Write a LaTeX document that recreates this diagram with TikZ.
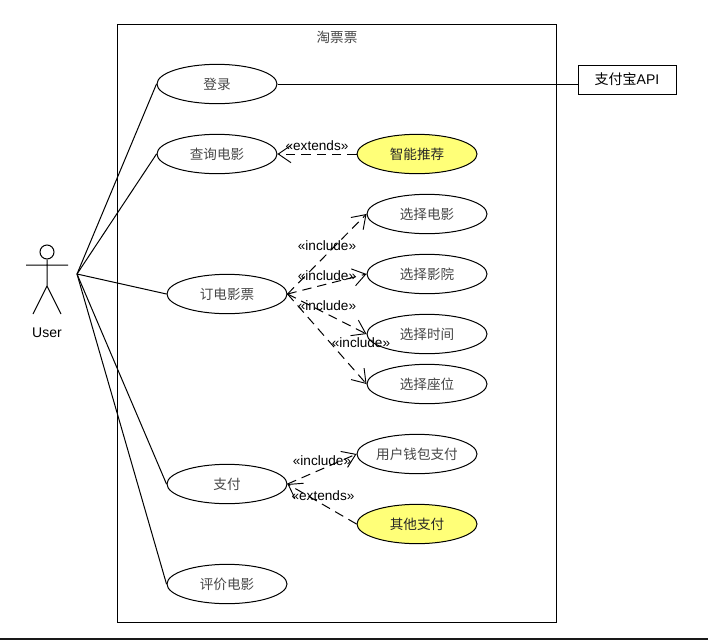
\documentclass[tikz,border=0pt]{standalone}
\usepackage{fontspec}
\setmainfont{Liberation Sans}
\newfontfamily\cjk{Noto Sans CJK SC}[Scale=1]
\usetikzlibrary{arrows.meta,shapes.geometric}
\definecolor{ucyellow}{RGB}{255,255,120}
\tikzset{
  uc/.style={draw=black,ellipse,minimum width=90pt,minimum height=29.5pt,inner sep=0pt,fill=white,line width=.75pt,text=black!72,font=\cjk\fontsize{10.2}{12}\selectfont},
  ucy/.style={uc,fill=ucyellow,text=black!85},
  assoc/.style={draw=black,line width=.75pt},
  dep/.style={draw=black,line width=.75pt,dash pattern=on 7pt off 4.5pt,-{Straight Barb[length=9.5pt,width=13pt,line width=.7pt]}},
  stereo/.style={font=\fontsize{10.2}{12}\selectfont,inner sep=0pt,text=black},
}
\begin{document}
\begin{tikzpicture}[x=.75pt,y=-.75pt]
\useasboundingbox (0,0) rectangle (708,640);
\fill[white] (0,0) rectangle (708,640);
\fill[black!90] (0,638) rectangle (708,640);
\node[draw=black,line width=.75pt,minimum width=329.25pt,minimum height=448.5pt,inner sep=0pt] (sys) at (336.5,323.7) {};
\node[font=\cjk\fontsize{10.2}{12}\selectfont,text=black!72,inner sep=0pt] (systitle) at (337,37) {淘票票};
% actor
\node[draw=black,circle,line width=.75pt,minimum size=10.5pt,inner sep=0pt] (head) at (47,252) {};
\coordinate (hip) at (47,286);
\coordinate (armL) at (26,265);
\coordinate (armR) at (68,265);
\coordinate (legL) at (33,314);
\coordinate (legR) at (61,314);
\draw[assoc] (head.south) -- (hip) (armL) -- (armR) (legL) -- (hip) -- (legR);
\node[inner sep=0pt,font=\fontsize{10.5}{12}\selectfont] (user) at (47,333) {User};
\coordinate (act) at (77,274);
% use cases
\node[uc] (login) at (217,84) {登录};
\node[uc] (query) at (217,154) {查询电影};
\node[ucy] (smart) at (417,154) {智能推荐};
\node[uc] (sfilm) at (427,214) {选择电影};
\node[uc] (scin) at (427,274) {选择影院};
\node[uc] (stime) at (427,334) {选择时间};
\node[uc] (sseat) at (427,384) {选择座位};
\node[uc] (book) at (227,294) {订电影票};
\node[uc] (pay) at (227,484) {支付};
\node[uc] (wallet) at (417,454) {用户钱包支付};
\node[ucy] (other) at (417,524) {其他支付};
\node[uc] (review) at (227,584) {评价电影};
\node[draw=black,line width=.75pt,minimum width=73.5pt,minimum height=21.75pt,inner sep=0pt,font=\fontsize{10.5}{12}\selectfont] (alipay) at (627,79.5) {{\cjk 支付宝}API};
% associations
\draw[assoc] (act) -- (login.west);
\draw[assoc] (act) -- (query.west);
\draw[assoc] (act) -- (book.west);
\draw[assoc] (act) -- (pay.west);
\draw[assoc] (act) -- (review.west);
\draw[assoc] (login.east) -- (login.east -| alipay.west);
% dependencies
\draw[dep] (smart.west) -- (query.east);
\draw[dep] (book.east) -- (sfilm.west);
\draw[dep] (book.east) -- (scin.west);
\draw[dep] (book.east) -- (stime.west);
\draw[dep] (book.east) -- (sseat.west);
\draw[dep] (pay.east) -- (wallet.west);
\draw[dep] (other.west) -- (pay.east);
% labels
\node[stereo] (l1) at (317,145.5) {«extends»};
\node[stereo] (l2) at (327,245.5) {«include»};
\node[stereo] (l3) at (327,275.5) {«include»};
\node[stereo] (l4) at (327,305.5) {«include»};
\node[stereo] (l5) at (361,342.5) {«include»};
\node[stereo] (l6) at (322,460.5) {«include»};
\node[stereo] (l7) at (323,495.5) {«extends»};
\end{tikzpicture}
\end{document}
